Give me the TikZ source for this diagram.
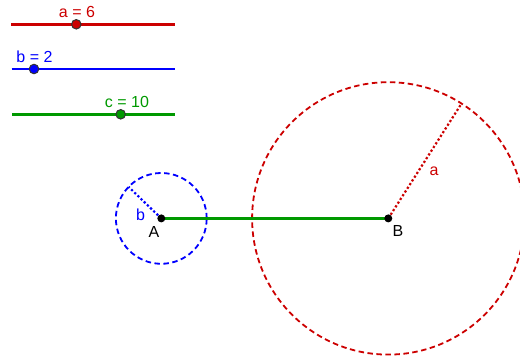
\documentclass[tikz,border=0pt]{standalone}
\usepackage{fontspec}
\setmainfont{Liberation Sans}
\usetikzlibrary{calc}
\definecolor{ggred}{RGB}{204,0,0}
\definecolor{ggblue}{RGB}{0,0,255}
\definecolor{gggreen}{RGB}{0,153,0}
\tikzset{
  slider/.style={line width=2.7pt},
  sdot/.style={circle,inner sep=0pt,minimum size=9.5pt,draw=black!80,line width=1pt},
  pdot/.style={circle,inner sep=0pt,minimum size=8pt,fill=black},
  lbl/.style={inner sep=0pt,font=\fontsize{16}{19}\selectfont},
  dcirc/.style={line width=1.8pt,dash pattern=on 5.5pt off 3.5pt},
  drad/.style={line width=2.2pt,dash pattern=on 2.2pt off 2.2pt},
}
\begin{document}
\begin{tikzpicture}[x=1pt,y=-1pt]
\useasboundingbox (0,0) rectangle (520,358);
\clip (0,0) rectangle (520,358);
% sliders
\coordinate (a1) at (11,24.3);
\coordinate (a2) at (174.5,24.3);
\draw[slider,ggred] (a1) -- (a2);
\node[sdot,fill=ggred] (sa) at (76.3,24.3) {};
\node[lbl,text=ggred] (la) at (77,11.7) {a = 6};
\coordinate (b1) at (11.7,69);
\coordinate (b2) at (175,69);
\draw[slider,ggblue] (b1) -- (b2);
\node[sdot,fill=ggblue] (sb) at (34,69) {};
\node[lbl,text=ggblue] (lb) at (34.5,56.5) {b = 2};
\coordinate (c1) at (12,114.3);
\coordinate (c2) at (175,114.3);
\draw[slider,gggreen] (c1) -- (c2);
\node[sdot,fill=gggreen] (sc) at (120.7,114.3) {};
\node[lbl,text=gggreen] (lc) at (127,102) {c = 10};
% points
\coordinate (A) at (161.3,218.4);
\coordinate (B) at (388.3,218.4);
\draw[dcirc,ggblue] (A) circle[radius=45.4pt];
\draw[dcirc,ggred] (B) circle[radius=136.2pt];
\coordinate (Ar) at ($(A)+(-32.7,-31.5)$);
\coordinate (Br) at ($(B)+(73.2,-114.8)$);
\draw[drad,ggblue] (A) -- (Ar);
\draw[drad,ggred] (B) -- (Br);
\draw[gggreen,line width=3pt] (A) -- (B);
\node[pdot] (Ad) at (A) {};
\node[pdot] (Bd) at (B) {};
\node[lbl] (lA) at (154,231.5) {A};
\node[lbl] (lB) at (398,231) {B};
\node[lbl,text=ggblue] (lbb) at (140.5,215) {b};
\node[lbl,text=ggred] (laa) at (434,171) {a};
\end{tikzpicture}
\end{document}
